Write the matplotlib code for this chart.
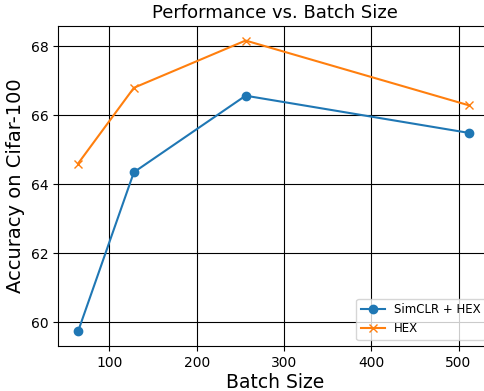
import matplotlib
matplotlib.use("Agg")
import matplotlib.pyplot as plt

batch_sizes = [64, 128, 256, 512]
simclr_hex = [59.73, 64.35, 66.57, 65.49]
hex_only = [64.60, 66.80, 68.17, 66.29]

fig = plt.figure(figsize=(4.85, 3.91), dpi=100)
ax = fig.add_axes([58.5 / 485, 45 / 391, 433 / 485, 320 / 391])
ax.plot(batch_sizes, simclr_hex, marker='o', label='SimCLR + HEX')
ax.plot(batch_sizes, hex_only, marker='x', label='HEX')
ax.set_xlim(41.6, 537.8)
ax.set_xlabel('Batch Size', fontsize=13.5, labelpad=2)
ax.set_ylabel('Accuracy on Cifar-100', fontsize=14)
ax.set_title('Performance vs. Batch Size', fontsize=13)
ax.grid(color='black', linewidth=0.8)
ax.legend(loc='lower right', fontsize=8.5)
fig.savefig('out.png', dpi=100)
